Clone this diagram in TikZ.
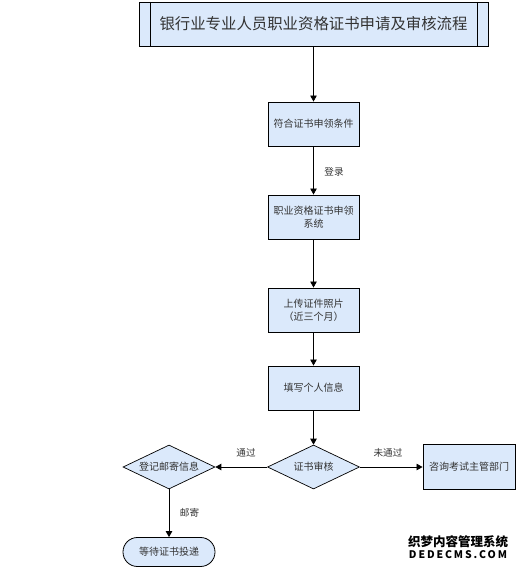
\documentclass[tikz,border=0pt]{standalone}
\usepackage{fontspec}
\setmainfont{Noto Sans CJK SC}
\usetikzlibrary{shapes.geometric,arrows.meta}
\definecolor{fillblue}{HTML}{DBE9FB}
\definecolor{txt}{HTML}{333333}
\tikzset{
  x=1pt,y=-1pt,
  flowbox/.style={draw=black,fill=fillblue,line width=.9pt,minimum width=91pt,minimum height=44pt,inner sep=0pt,align=center,font=\fontsize{10}{13}\selectfont,text=txt},
  flowdiamond/.style={draw=black,fill=fillblue,line width=.7pt,diamond,aspect=2.07,minimum width=92pt,minimum height=44pt,inner sep=0pt,font=\fontsize{10}{12}\selectfont,text=txt},
  flowend/.style={draw=black,fill=fillblue,line width=.8pt,rounded corners=14.4pt,minimum width=92pt,minimum height=29pt,inner sep=0pt,font=\fontsize{10}{12}\selectfont,text=txt},
  lbl/.style={font=\fontsize{9.6}{11}\selectfont,text=txt,inner sep=0pt},
  conn/.style={draw=black,line width=.8pt,-{Triangle[length=6pt,width=6.5pt]}},
}
\begin{document}
\begin{tikzpicture}
\useasboundingbox (0,0) rectangle (518,569);
\node[flowbox,minimum width=349pt,minimum height=44pt,font=\fontsize{15.4}{17}\selectfont] (title) at (313.5,24) {银行业专业人员职业资格证书申请及审核流程};
\draw[line width=.8pt] (150,2) -- (150,46) (477,2) -- (477,46);
\node[flowbox] (a) at (313.5,124) {符合证书申领条件};
\node[flowbox] (b) at (313.5,217) {职业资格证书申领\\系统};
\node[flowbox] (c) at (313.5,310) {上传证件照片\\（近三个月）};
\node[flowbox] (d) at (313.5,388) {填写个人信息};
\node[flowdiamond] (e) at (313.5,467) {证书审核};
\node[flowdiamond] (f) at (169,467) {登记邮寄信息};
\node[flowbox,minimum width=92pt,minimum height=45pt] (g) at (469,467) {咨询考试主管部门};
\node[flowend] (h) at (169,552) {等待证书投递};
\draw[conn] (title) -- (a);
\draw[conn] (a) -- (b);
\draw[conn] (b) -- (c);
\draw[conn] (c) -- (d);
\draw[conn] (d) -- (e);
\draw[conn] (e) -- (f);
\draw[conn] (e) -- (g);
\draw[conn] (f) -- (h);
\node[lbl] (l1) at (334,171.5) {登录};
\node[lbl] (l2) at (246,452.5) {通过};
\node[lbl] (l3) at (388,452.5) {未通过};
\node[lbl] (l4) at (189.5,512.5) {邮寄};
\node[inner sep=0pt,font=\bfseries\fontsize{12.5}{13}\selectfont] (w1) at (458,541.5) {织梦内容管理系统};
\node[inner sep=0pt,font=\bfseries\fontsize{10.5}{12}\selectfont] (w2) at (458,554.5) {\addfontfeature{LetterSpace=18}DEDECMS.COM};
\end{tikzpicture}
\end{document}
